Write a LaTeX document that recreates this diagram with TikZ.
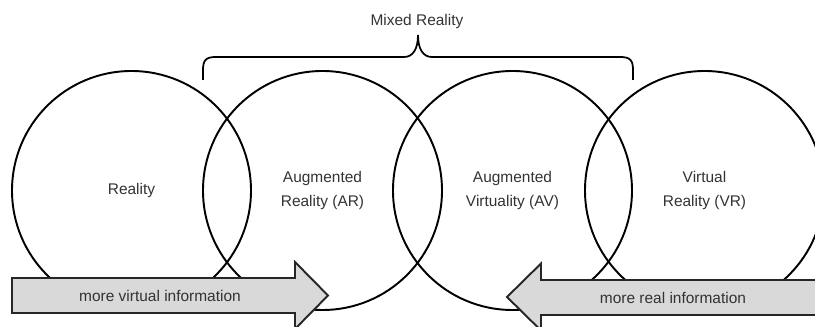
\documentclass[tikz,border=0pt]{standalone}
\usepackage{fontspec}
\setmainfont{Liberation Sans}
\usetikzlibrary{calc}

\begin{document}
\begin{tikzpicture}[%
  x=0.02cm, y=-0.02cm,
  ring/.style={line width=1.1pt},
  infoarrow/.style={draw=black!85, fill=black!15, line width=1.1pt, line join=miter},
  areatext/.style={align=center, text=black!80, font=\fontsize{8.8pt}{13.6pt}\selectfont},
  brace/.style={line width=1pt},
]

  \useasboundingbox (0,0) rectangle (815,327);

  \coordinate (c0) at (131.5,190.5);
  \coordinate (c1) at (322.5,190.5);
  \coordinate (c2) at (512.5,190.5);
  \coordinate (c3) at (704.5,190.5);

  \coordinate (a0) at (12,278);
  \coordinate (a1) at (295,278);
  \coordinate (a2) at (295,262);
  \coordinate (a3) at (328,295.5);
  \coordinate (a4) at (295,329);
  \coordinate (a5) at (295,313);
  \coordinate (a6) at (12,313);

  \coordinate (b0) at (830,280);
  \coordinate (b1) at (541,280);
  \coordinate (b2) at (541,263.5);
  \coordinate (b3) at (507,297);
  \coordinate (b4) at (541,330.5);
  \coordinate (b5) at (541,315);
  \coordinate (b6) at (830,315);

  \coordinate (m0) at (203,80);
  \coordinate (m1) at (418,35);
  \coordinate (m2) at (633,80);

  \foreach \c in {c0,c1,c2,c3}
    \draw[ring] (\c) circle[radius=119.5];

  \draw[infoarrow] (a0) -- (a1) -- (a2) -- (a3) -- (a4) -- (a5) -- (a6) -- cycle;
  \draw[infoarrow] (b0) -- (b1) -- (b2) -- (b3) -- (b4) -- (b5) -- (b6) -- cycle;

  \draw[brace] (m0) -- ++(0,-10) .. controls ++(0,-10) and ++(-10,0) .. (216,57)
    -- (404,57) .. controls ++(9,0) and ++(0,14) .. (m1)
    .. controls ++(0,14) and ++(-9,0) .. (432,57)
    -- (620,57) .. controls ++(10,0) and ++(0,-10) .. ($(m2)+(0,-10)$) -- (m2);

  \node[areatext] (reality) at (c0) {Reality};
  \node[areatext] (ar) at (c1) {Augmented\\Reality (AR)};
  \node[areatext] (av) at (c2) {Augmented\\Virtuality (AV)};
  \node[areatext] (vr) at (c3) {Virtual\\Reality (VR)};

  \node[areatext] (mixed) at (417,22) {Mixed Reality};
  \node[areatext] (virtualinfo) at (160,296) {more virtual information};
  \node[areatext] (realinfo) at (673,298) {more real information};

\end{tikzpicture}
\end{document}
